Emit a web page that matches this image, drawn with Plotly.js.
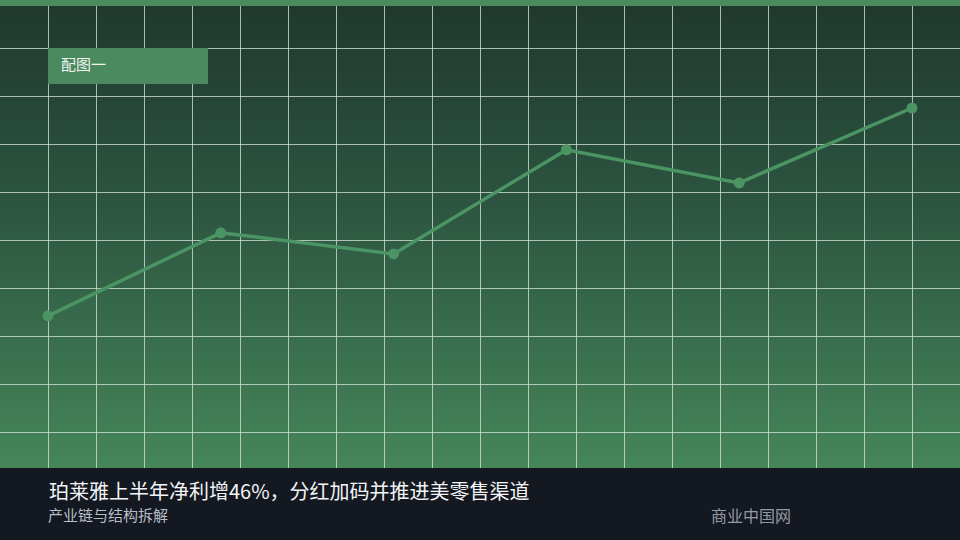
<!DOCTYPE html>
<html>
<head>
<meta charset="utf-8">
<script src="https://cdn.plot.ly/plotly-3.0.1.min.js"></script>
<style>
html,body{margin:0;padding:0;background:#141820;}
#chart{width:960px;height:540px;background:linear-gradient(180deg,#1f382e 0px,#2c5440 200px,#458658 468px,#141820 468px);}
</style>
</head>
<body>
<div id="chart"></div>
<script>
var categories = ["1", "2", "3", "4", "5", "6"];
var xIndex = [0, 1, 2, 3, 4, 5];
var values = [31.7, 49.0, 44.6, 66.3, 59.4, 75.0];
var titleText = "珀莱雅上半年净利增46%，分红加码并推进美零售渠道";
var subtitleText = "产业链与结构拆解";
var sourceText = "商业中国网";
var labelText = "配图一";

(function(){
var W = 960, H = 540, mTop = 6, mBottom = 72;
var plotH = H - mTop - mBottom;
function py(p){ return (H - mBottom - p) / plotH; }

var trace = {
  x: xIndex,
  y: values,
  text: categories,
  type: "scatter",
  mode: "lines+markers",
  line: {color: "#4b9463", width: 3.5},
  marker: {color: "#4b9463", size: 11},
  hoverinfo: "skip"
};

var layout = {
  width: W, height: H,
  margin: {l: 0, r: 0, t: mTop, b: mBottom, pad: 0},
  paper_bgcolor: "rgba(0,0,0,0)",
  plot_bgcolor: "rgba(0,0,0,0)",
  showlegend: false,
  xaxis: {
    range: [-48/172.8, (960-48)/172.8],
    tickmode: "linear", tick0: -48/172.8, dtick: 48/172.8,
    showgrid: true, gridcolor: "rgba(210,225,215,0.78)", gridwidth: 1,
    showticklabels: false, zeroline: false, showline: false, fixedrange: true
  },
  yaxis: {
    range: [0, 462/4.8],
    tickmode: "linear", tick0: 7.5, dtick: 10,
    showgrid: true, gridcolor: "rgba(210,225,215,0.78)", gridwidth: 1,
    showticklabels: false, zeroline: false, showline: false, fixedrange: true
  },
  shapes: [
    {type: "rect", xref: "paper", yref: "paper", x0: 0, x1: 1, y0: 1, y1: 1 + mTop/plotH,
     fillcolor: "#4a8a5e", line: {width: 0}, layer: "above"},
    {type: "rect", xref: "paper", yref: "paper", x0: 0, x1: 1, y0: -mBottom/plotH, y1: 0,
     fillcolor: "#141820", line: {width: 0}, layer: "above"},
    {type: "rect", xref: "paper", yref: "paper", x0: 48/W, x1: 208/W, y0: py(84), y1: py(48),
     fillcolor: "#4a8a5e", line: {width: 0}, layer: "above"}
  ],
  annotations: [
    {text: labelText, xref: "paper", yref: "paper", x: 59/W, y: py(64), xanchor: "left", yanchor: "middle",
     showarrow: false, font: {family: "Noto Sans CJK SC", size: 15, color: "#eef3ef"}},
    {text: titleText, xref: "paper", yref: "paper", x: 47/W, y: py(491), xanchor: "left", yanchor: "middle",
     showarrow: false, font: {family: "Noto Sans CJK SC", size: 20, color: "#f2f4f7"}},
    {text: subtitleText, xref: "paper", yref: "paper", x: 46/W, y: py(514), xanchor: "left", yanchor: "middle",
     showarrow: false, font: {family: "Noto Sans CJK SC", size: 15, color: "#b9bdc5"}},
    {text: sourceText, xref: "paper", yref: "paper", x: 709/W, y: py(515), xanchor: "left", yanchor: "middle",
     showarrow: false, font: {family: "Noto Sans CJK SC", size: 16, color: "#949aa4"}}
  ]
};

Plotly.newPlot("chart", [trace], layout, {displayModeBar: false, staticPlot: true});
})();
</script>
</body>
</html>
